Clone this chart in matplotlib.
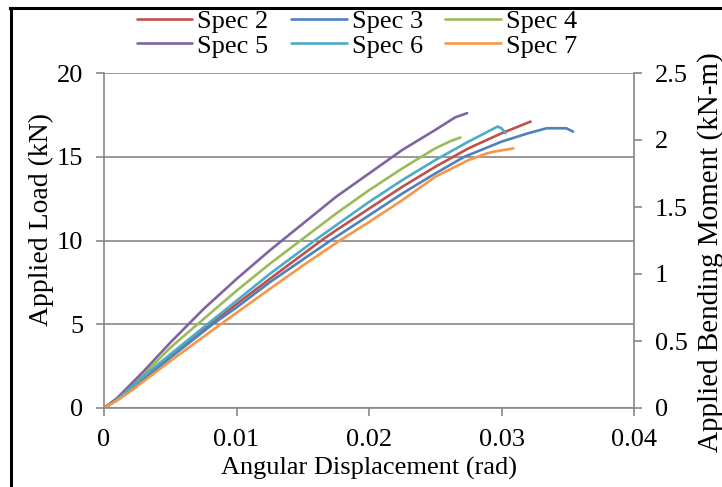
import matplotlib
matplotlib.use("Agg")
import matplotlib.pyplot as plt
from matplotlib.lines import Line2D

plt.rcParams['font.family'] = ['Liberation Serif', 'DejaVu Serif']

# Load–rotation curves for each specimen (rad, kN)
spec2_x = [0, 0.001, 0.002, 0.003, 0.005, 0.008, 0.010, 0.0125, 0.0164, 0.0175, 0.020, 0.0225, 0.025, 0.0275, 0.030, 0.0322]
spec2_y = [0, 0.5, 1.1, 1.8, 3.1, 5.0, 6.2, 7.7, 10.0, 10.6, 11.9, 13.2, 14.4, 15.5, 16.4, 17.1]

spec3_x = [0, 0.001, 0.002, 0.003, 0.005, 0.0082, 0.010, 0.0125, 0.0171, 0.020, 0.0225, 0.025, 0.0272, 0.030, 0.032, 0.0334, 0.0349, 0.0354]
spec3_y = [0, 0.5, 1.1, 1.7, 3.0, 5.0, 6.0, 7.5, 10.0, 11.5, 12.8, 14.0, 15.0, 15.9, 16.4, 16.7, 16.7, 16.5]

spec4_x = [0, 0.001, 0.002, 0.003, 0.005, 0.0075, 0.010, 0.0125, 0.015, 0.0175, 0.020, 0.0225, 0.025, 0.0262, 0.0269]
spec4_y = [0, 0.55, 1.3, 2.0, 3.6, 5.3, 7.0, 8.6, 10.1, 11.6, 13.0, 14.3, 15.5, 15.95, 16.15]

spec5_x = [0, 0.001, 0.002, 0.003, 0.005, 0.0075, 0.010, 0.0125, 0.015, 0.0175, 0.020, 0.0225, 0.025, 0.0265, 0.0274]
spec5_y = [0, 0.6, 1.4, 2.2, 3.9, 5.9, 7.7, 9.4, 11.0, 12.6, 14.0, 15.4, 16.6, 17.35, 17.6]

spec6_x = [0, 0.001, 0.002, 0.003, 0.005, 0.0078, 0.010, 0.0125, 0.0159, 0.0175, 0.020, 0.0225, 0.025, 0.0275, 0.0297, 0.0300, 0.0303]
spec6_y = [0, 0.5, 1.2, 1.9, 3.2, 5.0, 6.4, 8.0, 10.0, 10.9, 12.3, 13.6, 14.8, 15.9, 16.8, 16.7, 16.4]

spec7_x = [0, 0.001, 0.002, 0.003, 0.005, 0.0088, 0.0125, 0.015, 0.0178, 0.020, 0.0225, 0.025, 0.0275, 0.0289, 0.0294, 0.0309]
spec7_y = [0, 0.45, 1.0, 1.6, 2.8, 5.0, 7.1, 8.5, 10.0, 11.1, 12.4, 13.8, 14.8, 15.2, 15.3, 15.5]

series = [
    ("Spec 2", spec2_x, spec2_y, "#C0504D"),
    ("Spec 3", spec3_x, spec3_y, "#4F81BD"),
    ("Spec 4", spec4_x, spec4_y, "#9BBB59"),
    ("Spec 5", spec5_x, spec5_y, "#8064A2"),
    ("Spec 6", spec6_x, spec6_y, "#4BACC6"),
    ("Spec 7", spec7_x, spec7_y, "#F79646"),
]

x_ticks = [0, 0.01, 0.02, 0.03, 0.04]
x_tick_labels = ["0", "0.01", "0.02", "0.03", "0.04"]
load_ticks = [0, 5, 10, 15, 20]
moment_ticks = [0, 0.5, 1.0, 1.5, 2.0, 2.5]
moment_tick_labels = ["0", "0.5", "1", "1.5", "2", "2.5"]

FS = 19
GRAY = "#878787"

fig = plt.figure(figsize=(7.22, 4.87), dpi=100)
ax = fig.add_axes([104 / 722, 1 - 408 / 487, (634 - 104) / 722, (408 - 73) / 487])

handles = {}
for name, xs, ys, col in series:
    h, = ax.plot(xs, ys, color=col, lw=1.9, solid_capstyle="round", label=name)
    handles[name] = h

ax.set_xlim(0, 0.04)
ax.set_ylim(0, 20)
ax.set_xticks(x_ticks)
ax.set_xticklabels(x_tick_labels)
ax.set_yticks(load_ticks)
ax.grid(axis="y", color=GRAY, lw=1.2)
ax.set_axisbelow(True)

for side in ("top", "right"):
    ax.spines[side].set_visible(False)
for side in ("left", "bottom"):
    ax.spines[side].set_color(GRAY)
    ax.spines[side].set_linewidth(1.2)
ax.tick_params(axis="both", direction="out", color=GRAY, width=1.2, length=6,
               labelsize=FS, pad=9)

ax2 = ax.twinx()
ax2.set_ylim(0, 2.5)
ax2.set_yticks(moment_ticks)
ax2.set_yticklabels(moment_tick_labels)
for side in ("top", "left", "bottom"):
    ax2.spines[side].set_visible(False)
ax2.spines["right"].set_color(GRAY)
ax2.spines["right"].set_linewidth(1.2)
ax2.tick_params(axis="y", direction="out", color=GRAY, width=1.2, length=6,
                labelsize=FS, pad=9)

fig.text(0.5 * (104 + 634) / 722, 1 - 468 / 487, "Angular Displacement (rad)",
         ha="center", va="center", fontsize=FS)
fig.text(41 / 722, 1 - 220 / 487, "Applied Load (kN)", rotation=90,
         ha="center", va="center", fontsize=FS + 1)
fig.text(711 / 722, 1 - 252 / 487, "Applied Bending Moment (kN-m)", rotation=90,
         ha="center", va="center", fontsize=FS + 2)

order = ["Spec 2", "Spec 5", "Spec 3", "Spec 6", "Spec 4", "Spec 7"]
fig.legend([handles[n] for n in order], order, ncol=3, frameon=False,
           loc="center", bbox_to_anchor=(357 / 722, 1 - 33.5 / 487),
           fontsize=FS, handlelength=2.1, handletextpad=0.2,
           columnspacing=0.85, labelspacing=0.05, borderpad=0.1)

# outer black frame
fig.add_artist(Line2D([11 / 722, 11 / 722], [0, 1 - 8 / 487], color="black",
                      lw=2.2, transform=fig.transFigure))
fig.add_artist(Line2D([10 / 722, 1], [1 - 8 / 487, 1 - 8 / 487], color="black",
                      lw=2.2, transform=fig.transFigure))

fig.savefig("out.png", dpi=100)
